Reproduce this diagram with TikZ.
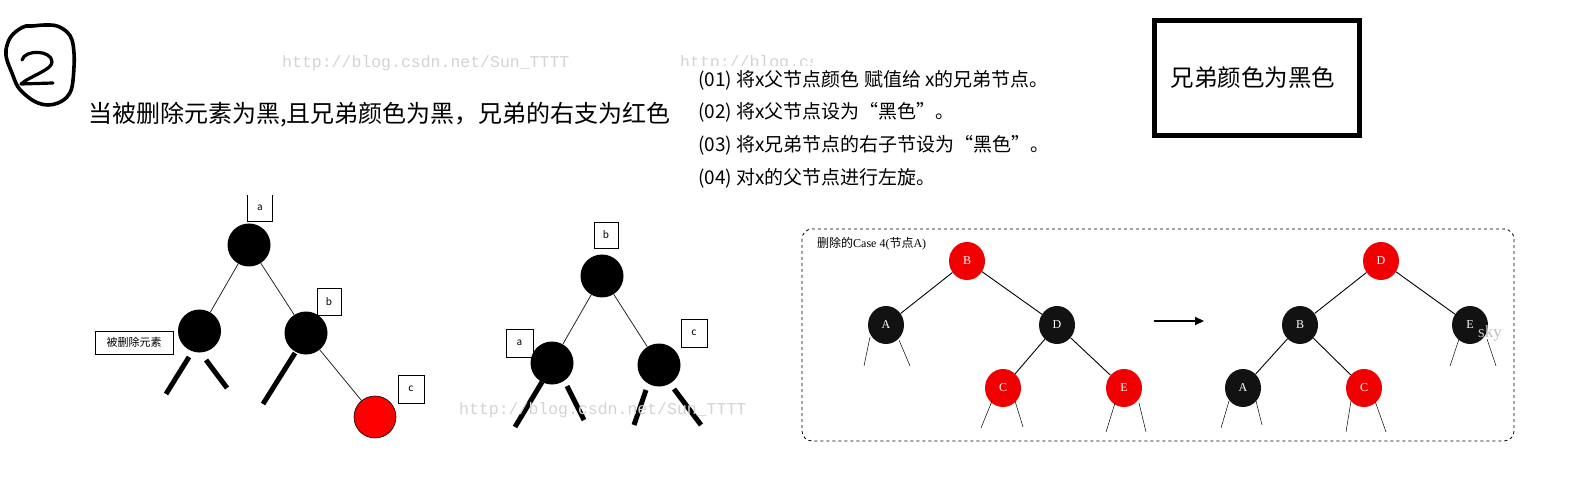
\documentclass[tikz,border=0pt]{standalone}
\usepackage{fontspec}
\setmainfont{Noto Sans CJK SC}
\newfontfamily\serifl{Liberation Serif}
\newfontfamily\monol{Liberation Mono}
\usetikzlibrary{shapes.geometric,arrows.meta}
\definecolor{wm}{RGB}{212,212,212}
\definecolor{nodered}{RGB}{240,0,0}
\begin{document}
\begin{tikzpicture}[x=1pt,y=-1pt,
  fsz/.style={font=\fontsize{#1}{#1}\selectfont},
  wmk/.style={text=wm,font=\monol\fontsize{16.5}{16.5}\selectfont,inner sep=0pt},
  hand/.style={line width=3.6pt,line cap=round,line join=round},
  bn/.style={circle,fill=black,minimum size=43pt,inner sep=0pt},
  rn/.style={circle,fill=red,draw=black,line width=0.6pt,minimum size=42pt,inner sep=0pt},
  lbl/.style={draw,line width=0.8pt,inner sep=0pt,font=\fontsize{10}{10}\selectfont},
  edge/.style={line width=0.8pt,draw=black!85},
  stub/.style={line width=5pt},
  rnode/.style={ellipse,minimum width=36pt,minimum height=38pt,inner sep=0pt,text=white,font=\serifl\fontsize{12}{12}\selectfont},
  rblack/.style={rnode,fill=black!93},
  rred/.style={rnode,fill=nodered},
  redge/.style={line width=0.9pt},
  rstub/.style={line width=0.5pt},
  instr/.style={anchor=west,inner sep=0pt,fsz=19}
]
\useasboundingbox[fill=white] (0,0) rectangle (1571,486);

% watermarks
\node[wmk,anchor=west] (wm1) at (282,63) {http://blog.csdn.net/Sun\_TTTT};
\begin{scope}
  \clip (670,50) rectangle (812,66);
  \node[wmk,anchor=west] (wm2) at (680,63) {http://blog.csdn.net/Sun\_TTTT};
\end{scope}

% hand drawn circled 2
\draw[hand] plot[smooth cycle,tension=0.6] coordinates {(32,26) (45,25) (57,26) (67,32) (72,40) (74,53) (74,67) (72,87) (67,97) (58,103) (48,105) (38,103) (28,97) (18,87) (12,73) (7,60) (6,50) (10,38) (18,30) (26,26)};
\draw[hand,line width=3.2pt] (22,60) .. controls (25,49) and (52,50) .. (52,62) .. controls (52,70) and (30,76) .. (21,84) -- (53,83);

% title
\node[anchor=west,inner sep=0pt,fsz=24] (title) at (88,115) {当被删除元素为黑,且兄弟颜色为黑，兄弟的右支为红色};

% instructions
\node[instr] (i1) at (698,80) {(01) 将x父节点颜色 赋值给 x的兄弟节点。};
\node[instr] (i2) at (698,112) {(02) 将x父节点设为“黑色”。};
\node[instr] (i3) at (698,145) {(03) 将x兄弟节点的右子节设为“黑色”。};
\node[instr] (i4) at (698,178) {(04) 对x的父节点进行左旋。};

% box top right
\node[draw,line width=5pt,minimum width=205pt,minimum height=115pt,inner sep=0pt,fsz=23.5] (case) at (1257,78) {\hspace*{-8pt}兄弟颜色为黑色};

% left tree
\node[bn] (a) at (249,245) {};
\node[bn] (del) at (199.5,331) {};
\node[bn] (b) at (306,333) {};
\node[rn] (c) at (375,417) {};
\node[inner sep=0pt,minimum width=25pt,minimum height=26pt,font=\fontsize{10}{10}\selectfont] (la) at (260,208) {a};
\draw[line width=0.8pt] (la.north west) |- (la.south east) -- (la.north east);
\node[lbl,minimum width=24pt,minimum height=27pt] (lb) at (329,301.5) {b};
\node[lbl,minimum width=26pt,minimum height=28pt] (lc) at (411,389) {c};
\node[lbl,minimum width=78pt,minimum height=23pt,font=\fontsize{11}{11}\selectfont] (ldel) at (134,342.5) {被删除元素};
\draw[edge] (a) -- (del);
\draw[edge] (a) -- (b);
\draw[edge] (b) -- (c);
\draw[stub] (del) ++(-10.5,26) -- ++(-23,37);
\draw[stub] (del) ++(6.5,29) -- ++(21,28);
\draw[stub] (b) ++(-11,20) -- ++(-32,51);

% middle tree
\node[bn] (mb) at (602,276) {};
\node[bn] (ma) at (552,363) {};
\node[bn] (mc) at (659,365) {};
\node[lbl,minimum width=24pt,minimum height=26pt] (mlb) at (606,235) {b};
\node[lbl,minimum width=27pt,minimum height=28pt] (mla) at (519.5,343) {a};
\node[lbl,minimum width=26pt,minimum height=28pt] (mlc) at (694,333) {c};
\draw[edge] (mb) -- (ma);
\draw[edge] (mb) -- (mc);
\draw[stub] (ma) ++(-10,19) -- ++(-27,45);
\draw[stub] (ma) ++(15,23) -- ++(17,34);
\draw[stub] (mc) ++(-13,25) -- ++(-12,35);
\draw[stub] (mc) ++(15,24) -- ++(27,36);
\node[wmk,anchor=west] (wm3) at (459,410) {http://blog.csdn.net/Sun\_TTTT};

% right panel
\draw[dashed,line width=0.8pt,rounded corners=10pt] (802,229) rectangle (1514,441);
\node[anchor=west,inner sep=0pt,font=\fontsize{12}{12}\selectfont] (ptitle) at (817,244) {删除的{\serifl Case 4(}节点{\serifl A)}};
\node[rred] (B) at (967,261) {B};
\node[rblack] (A) at (886,325) {A};
\node[rblack] (D) at (1057,325) {D};
\node[rred] (C) at (1003,388) {C};
\node[rred] (E) at (1124,388) {E};
\draw[redge] (B) -- (A);
\draw[redge] (B) -- (D);
\draw[redge] (D) -- (C);
\draw[redge] (D) -- (E);
\draw[rstub] (A) ++(-16,12) -- ++(-6,29);
\draw[rstub] (A) ++(13,15) -- ++(11,26);
\draw[rstub] (C) ++(-11,13) -- ++(-11,27);
\draw[rstub] (C) ++(12,13) -- ++(8,26);
\draw[rstub] (E) ++(-9,15) -- ++(-9,29);
\draw[rstub] (E) ++(15,15) -- ++(7,29);

\coordinate (arS) at (1154,321);
\coordinate (arE) at (1204,321);
\draw[line width=2pt,-{Triangle[length=9pt,width=8pt]}] (arS) -- (arE);

\node[rred] (D2) at (1381,261) {D};
\node[rblack] (B2) at (1300,325) {B};
\node[rblack] (E2) at (1470,325) {E};
\node[rblack] (A2) at (1243,388) {A};
\node[rred] (C2) at (1364,388) {C};
\draw[redge] (D2) -- (B2);
\draw[redge] (D2) -- (E2);
\draw[redge] (B2) -- (A2);
\draw[redge] (B2) -- (C2);
\draw[rstub] (A2) ++(-14,13) -- ++(-8,27);
\draw[rstub] (A2) ++(13,13) -- ++(6,24);
\draw[rstub] (C2) ++(-13,13) -- ++(-5,31);
\draw[rstub] (C2) ++(11,13) -- ++(11,31);
\draw[rstub] (E2) ++(-11,14) -- ++(-9,27);
\draw[rstub] (E2) ++(17,14) -- ++(9,27);
\node[anchor=west,inner sep=0pt,text=black!25,font=\serifl\fontsize{17}{17}\selectfont] (sky) at (1478,333) {sky};
\end{tikzpicture}
\end{document}
